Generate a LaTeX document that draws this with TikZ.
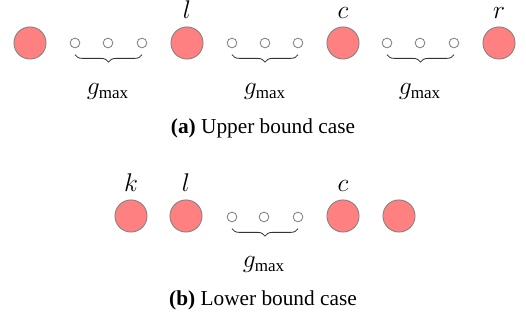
\documentclass[tikz,border=0pt]{standalone}
\usepackage{fontspec}
\setmainfont{Liberation Serif}
\usepackage{tikz}
\usetikzlibrary{decorations.pathreplacing}

\begin{document}
\begin{tikzpicture}[
  x=0.0165cm, y=-0.0165cm,
  every node/.style={font=\normalsize},
  bigdot/.style={circle, draw=gray, fill=red!50, minimum size=0.53cm, inner sep=0pt},
  gapdot/.style={circle, draw=gray, fill=white, minimum size=0.16cm, inner sep=0pt},
  namelabel/.style={anchor=base, inner sep=0pt, font=\large},
  gaplabel/.style={anchor=base, inner sep=0pt, font=\large},
  caption/.style={anchor=base, inner sep=0pt},
  brace/.style={decorate, decoration={brace, mirror, amplitude=3.5pt}, draw=black!80},
]
\useasboundingbox (0,0) rectangle (526,326);

% ---- Upper bound case (top row) ----
\node[bigdot] (a0) at (30,43) {};
\node[bigdot] (al) at (187,43) {};
\node[bigdot] (ac) at (343,43) {};
\node[bigdot] (ar) at (499,43) {};

\node[gapdot] (g11) at (75,43) {};
\node[gapdot] (g12) at (108,43) {};
\node[gapdot] (g13) at (142,43) {};
\node[gapdot] (g21) at (232,43) {};
\node[gapdot] (g22) at (265,43) {};
\node[gapdot] (g23) at (298,43) {};
\node[gapdot] (g31) at (387,43) {};
\node[gapdot] (g32) at (420,43) {};
\node[gapdot] (g33) at (454,43) {};

\node[namelabel] (lab_l) at (187,19) {$l$};
\node[namelabel] (lab_c) at (343,19) {$c$};
\node[namelabel] (lab_r) at (499,19) {$r$};

\draw[brace] ([yshift=-3pt]g11.south) -- ([yshift=-3pt]g13.south);
\draw[brace] ([yshift=-3pt]g21.south) -- ([yshift=-3pt]g23.south);
\draw[brace] ([yshift=-3pt]g31.south) -- ([yshift=-3pt]g33.south);

\node[gaplabel] (gm1) at (108,95) {$g_{\max}$};
\node[gaplabel] (gm2) at (265,95) {$g_{\max}$};
\node[gaplabel] (gm3) at (420,95) {$g_{\max}$};

\node[caption] (cap_a) at (263,134) {\textbf{(a)} Upper bound case};

% ---- Lower bound case (bottom row) ----
\node[bigdot] (bk) at (131,216) {};
\node[bigdot] (bl) at (186,216) {};
\node[bigdot] (bc) at (343,216) {};
\node[bigdot] (b4) at (399,216) {};

\node[gapdot] (h1) at (232,217) {};
\node[gapdot] (h2) at (264,217) {};
\node[gapdot] (h3) at (298,217) {};

\node[namelabel] (lab_k) at (131,192) {$k$};
\node[namelabel] (lab_bl) at (186,192) {$l$};
\node[namelabel] (lab_bc) at (343,192) {$c$};

\draw[brace] ([yshift=-3pt]h1.south) -- ([yshift=-3pt]h3.south);

\node[gaplabel] (gm4) at (264,268) {$g_{\max}$};

\node[caption] (cap_b) at (263,306) {\textbf{(b)} Lower bound case};

\end{tikzpicture}
\end{document}
